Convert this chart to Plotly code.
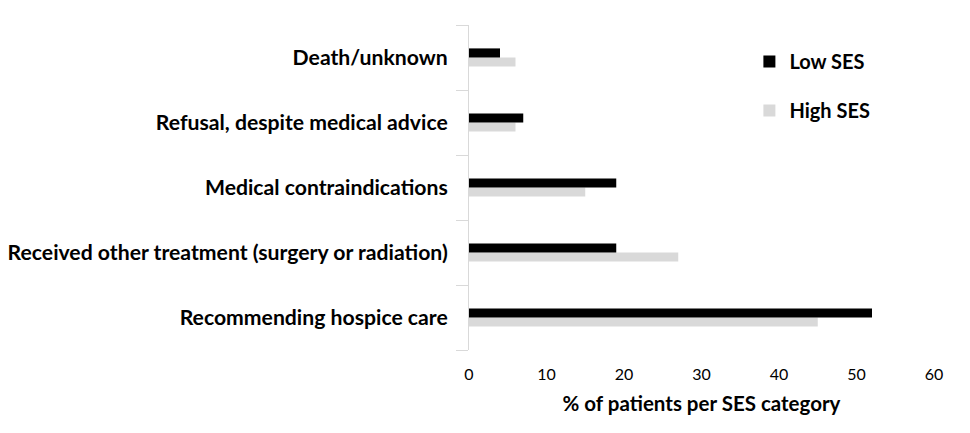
import plotly.graph_objects as go

categories = ["Recommending hospice care",
              "Received other treatment (surgery or radiation)",
              "Medical contraindications",
              "Refusal, despite medical advice",
              "Death/unknown"]
low_ses = [52, 19, 19, 7, 4]
high_ses = [45, 27, 15, 6, 6]
x_ticks = [0, 10, 20, 30, 40, 50, 60]

FONT = "Lato"

fig = go.Figure()
fig.add_trace(go.Bar(y=categories, x=high_ses, orientation="h", name="High SES",
                     marker=dict(color="#d9d9d9", line=dict(width=0)),
                     legendgroup="b", legendrank=2))
fig.add_trace(go.Bar(y=categories, x=low_ses, orientation="h", name="Low SES",
                     marker=dict(color="#000000", line=dict(width=0)),
                     legendgroup="a", legendrank=1))

fig.update_layout(
    width=962, height=425,
    margin=dict(l=461, r=36, t=17, b=83),
    paper_bgcolor="white", plot_bgcolor="white",
    barmode="group", bargap=0.72, bargroupgap=0,
    font=dict(family=FONT, color="#000000"),
    legend=dict(x=0.603, y=0.948, xanchor="left", yanchor="top",
                font=dict(family=FONT, size=20, color="#000000", weight="bold"),
                tracegroupgap=20, bgcolor="rgba(0,0,0,0)"),
    xaxis=dict(range=[0, 60], tickvals=x_ticks, ticktext=[str(v) for v in x_ticks],
               automargin=False,
               showgrid=False, zeroline=False, showline=False,
               ticks="outside", ticklen=10, tickcolor="rgba(0,0,0,0)",
               tickfont=dict(family=FONT, size=16, color="#000000"),
               title=dict(text="% of patients per SES category", standoff=14,
                          font=dict(family=FONT, size=20.5, color="#000000", weight="bold"))),
    yaxis=dict(showgrid=False, zeroline=False, showline=True, linecolor="#d9d9d9", linewidth=1,
               automargin=False,
               ticks="outside", tickson="boundaries", ticklen=12, tickcolor="#d9d9d9",
               ticklabelstandoff=16,
               tickfont=dict(family=FONT, size=21.2, color="#000000", weight="bold")),
)

fig.write_html("out.html")
